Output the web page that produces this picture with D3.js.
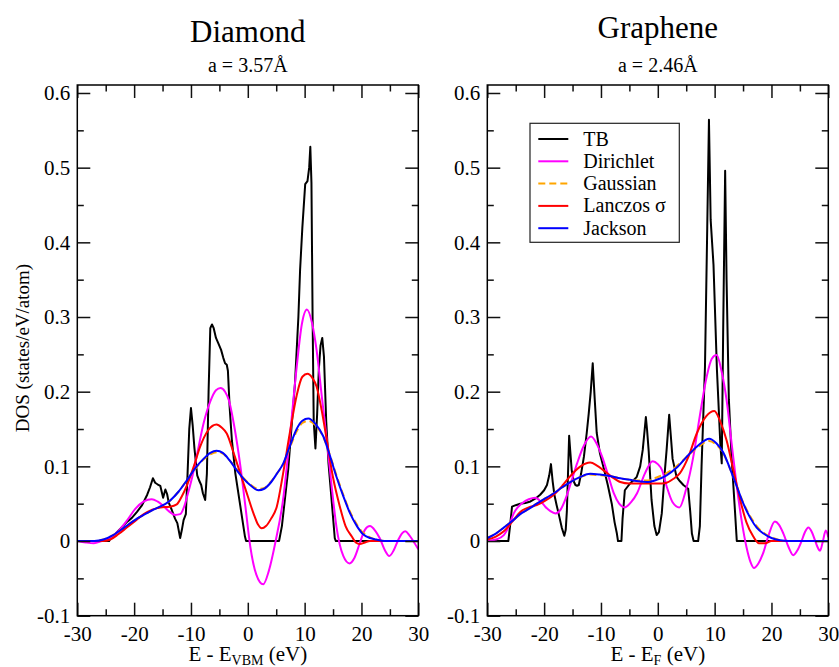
<!DOCTYPE html>
<html>
<head>
<meta charset="utf-8">
<script src="https://cdn.jsdelivr.net/npm/d3@7"></script>
<style>
  body { margin: 0; background: #fff; }
</style>
</head>
<body>
<div id="dos"></div>
<script>
// Data (E in eV, DOS in states/eV/atom) ---------------------------------------
const diamondTB = [[-30,0],[-24.4,0],[-24.2,0.003],[-23.5,0.008],[-22.5,0.016],[-21.2,0.026],[-20.4,0.031],[-19.5,0.039],[-18.6,0.048],[-17.7,0.062],[-17.2,0.072],[-16.7,0.084],[-16.3,0.078],[-15.9,0.076],[-15.4,0.074],[-14.9,0.058],[-14.5,0.069],[-14.2,0.063],[-13.9,0.051],[-13.5,0.044],[-13.2,0.038],[-12.8,0.030],[-12.4,0.024],[-12.1,0.012],[-11.9,0.004],[-11.6,0.015],[-11.3,0.028],[-10.9,0.036],[-10.6,0.09],[-10.3,0.15],[-10.0,0.178],[-9.7,0.155],[-9.4,0.125],[-8.9,0.088],[-8.5,0.080],[-8.2,0.075],[-7.9,0.064],[-7.5,0.055],[-7.2,0.09],[-6.9,0.2],[-6.6,0.285],[-6.3,0.290],[-6.0,0.285],[-5.6,0.272],[-5.2,0.265],[-4.7,0.256],[-4.3,0.245],[-4.0,0.238],[-3.7,0.236],[-3.5,0.228],[-3.2,0.18],[-2.8,0.135],[-2.2,0.091],[-1.3,0.046],[-0.5,0.006],[-0.3,0],[5.5,0],[6.0,0.02],[7.1,0.095],[8.3,0.211],[8.9,0.300],[9.2,0.363],[9.6,0.42],[10.1,0.478],[10.5,0.482],[10.8,0.50],[11.0,0.528],[11.2,0.48],[11.4,0.30],[11.6,0.16],[11.9,0.124],[12.2,0.17],[12.5,0.23],[12.8,0.262],[13.1,0.272],[13.4,0.247],[13.8,0.16],[14.2,0.104],[14.8,0.05],[15.3,0.004],[15.5,0],[30,0]];
const diamondDirichlet = [[-30,0],[-28.5,-0.002],[-27.1,-0.003],[-25.7,0],[-24.2,0.004],[-22.8,0.013],[-21.3,0.027],[-19.8,0.043],[-18.3,0.053],[-16.9,0.056],[-15.9,0.053],[-15.0,0.048],[-13.9,0.040],[-12.8,0.035],[-11.9,0.036],[-11.2,0.046],[-10.7,0.059],[-9.8,0.085],[-8.9,0.117],[-7.8,0.157],[-6.6,0.187],[-5.6,0.202],[-4.8,0.205],[-4.0,0.200],[-3.35,0.189],[-2.3,0.150],[-1.3,0.100],[-0.4,0.045],[0.45,-0.008],[1.5,-0.045],[2.7,-0.058],[3.7,-0.040],[4.9,0.0],[6.2,0.055],[7.4,0.14],[8.6,0.233],[9.5,0.290],[10.4,0.310],[11.3,0.292],[12.1,0.256],[13.0,0.195],[13.9,0.135],[14.8,0.07],[15.6,0.019],[16.8,-0.020],[17.9,-0.030],[18.8,-0.022],[19.7,-0.003],[20.6,0.015],[21.5,0.020],[22.4,0.014],[23.2,0.004],[24.1,-0.012],[24.9,-0.020],[25.7,-0.012],[26.5,0.002],[27.1,0.010],[27.7,0.013],[28.4,0.008],[29.1,0.0],[30,-0.011]];
const diamondGaussian = [[-30,0],[-27,0.0],[-25.4,0.002],[-23.7,0.008],[-21.6,0.019],[-19.5,0.030],[-16.6,0.042],[-13.7,0.054],[-12.2,0.066],[-10.75,0.081],[-9.3,0.096],[-7.8,0.109],[-6.6,0.116],[-5.5,0.119],[-4.4,0.117],[-3.2,0.108],[-1.95,0.096],[-0.8,0.085],[0.4,0.076],[1.85,0.070],[2.9,0.071],[3.9,0.078],[5.1,0.090],[6.25,0.103],[7.4,0.125],[8.6,0.147],[9.6,0.158],[10.65,0.161],[11.9,0.155],[13.3,0.139],[14.5,0.114],[15.6,0.088],[16.8,0.062],[18.0,0.039],[19.2,0.022],[20.3,0.011],[21.5,0.005],[22.6,0.002],[24,0],[30,0]];
const diamondLanczos = [[-30,0],[-27,0.0],[-25.5,0.0],[-24.2,0.002],[-22.8,0.009],[-21.3,0.018],[-19.8,0.027],[-18.3,0.036],[-16.8,0.042],[-15.4,0.045],[-13.7,0.046],[-12.5,0.049],[-11.6,0.060],[-10.7,0.075],[-9.5,0.100],[-8.4,0.126],[-7.0,0.148],[-5.5,0.156],[-4.6,0.152],[-3.7,0.144],[-2.5,0.118],[-1.3,0.090],[0.0,0.060],[1.0,0.037],[1.8,0.022],[2.45,0.017],[3.2,0.020],[4.1,0.030],[5.1,0.046],[6.2,0.090],[7.4,0.145],[8.6,0.195],[9.6,0.220],[10.5,0.224],[11.3,0.219],[12.1,0.207],[13.0,0.175],[13.9,0.135],[15.0,0.085],[16.2,0.046],[17.2,0.020],[18.3,0.006],[19.0,-0.002],[19.7,-0.004],[20.6,-0.002],[21.5,0.0],[30,0]];
const diamondJackson = [[-30,0],[-27,0.0],[-25.4,0.002],[-23.7,0.008],[-21.6,0.019],[-19.5,0.030],[-16.6,0.042],[-13.7,0.054],[-12.2,0.066],[-10.75,0.081],[-9.3,0.097],[-7.8,0.110],[-6.6,0.118],[-5.5,0.121],[-4.4,0.118],[-3.2,0.108],[-1.95,0.095],[-0.8,0.084],[0.4,0.075],[1.85,0.068],[2.9,0.070],[3.9,0.077],[5.1,0.090],[6.25,0.104],[7.4,0.127],[8.6,0.150],[9.6,0.161],[10.65,0.164],[11.9,0.157],[13.3,0.140],[14.5,0.113],[15.6,0.086],[16.8,0.060],[18.0,0.037],[19.2,0.020],[20.3,0.009],[21.5,0.004],[22.6,0.002],[24,0],[30,0]];

const grapheneTB = [[-30,0],[-26.3,0],[-26.0,0.02],[-25.65,0.046],[-25.0,0.048],[-24.2,0.050],[-23.3,0.051],[-22.4,0.053],[-21.5,0.057],[-20.7,0.062],[-20.0,0.068],[-19.5,0.075],[-19.1,0.088],[-18.8,0.103],[-18.5,0.08],[-18.2,0.062],[-17.8,0.048],[-17.4,0.035],[-16.9,0.018],[-16.45,0.007],[-16.2,0.015],[-16.0,0.04],[-15.8,0.09],[-15.6,0.141],[-15.4,0.12],[-15.15,0.095],[-14.8,0.08],[-14.5,0.075],[-14.2,0.074],[-13.9,0.075],[-13.5,0.09],[-13.0,0.113],[-12.5,0.145],[-12.15,0.171],[-11.8,0.20],[-11.45,0.238],[-11.1,0.19],[-10.75,0.145],[-10.2,0.118],[-9.6,0.100],[-8.8,0.075],[-8.1,0.050],[-7.6,0.025],[-7.2,0.010],[-7.0,0.0],[-6.4,0.0],[-6.2,0.03],[-5.8,0.068],[-5.3,0.073],[-4.9,0.077],[-4.3,0.081],[-3.7,0.086],[-3.1,0.100],[-2.65,0.122],[-2.3,0.150],[-2.1,0.166],[-1.9,0.15],[-1.6,0.12],[-1.1,0.055],[-0.6,0.02],[-0.2,0.008],[0.2,0.012],[0.7,0.037],[1.2,0.09],[1.55,0.122],[2.0,0.169],[2.3,0.14],[2.6,0.11],[3.3,0.086],[3.9,0.080],[4.5,0.075],[5.35,0.070],[5.7,0.04],[6.0,0.010],[6.3,0.0],[7.1,0.0],[7.4,0.02],[7.7,0.100],[8.3,0.233],[8.7,0.42],[9.0,0.564],[9.3,0.43],[9.8,0.37],[10.4,0.23],[10.65,0.189],[11.0,0.13],[11.25,0.104],[11.5,0.28],[11.85,0.496],[12.1,0.35],[12.5,0.19],[13.0,0.11],[13.5,0.05],[13.9,0.0],[30,0]];
const grapheneDirichlet = [[-30,0],[-28.5,0.002],[-27.1,0.008],[-26.2,0.02],[-25.35,0.037],[-24.0,0.050],[-22.7,0.056],[-21.55,0.058],[-20.6,0.053],[-19.8,0.046],[-18.9,0.040],[-18.0,0.037],[-17.1,0.042],[-16.3,0.055],[-15.2,0.080],[-14.2,0.104],[-13.0,0.128],[-11.75,0.140],[-10.8,0.131],[-9.8,0.113],[-8.7,0.087],[-7.75,0.064],[-6.8,0.050],[-5.8,0.045],[-4.7,0.052],[-3.65,0.064],[-2.3,0.090],[-0.9,0.107],[0.0,0.103],[0.74,0.095],[1.57,0.073],[2.6,0.052],[3.8,0.045],[5.0,0.070],[6.25,0.113],[7.4,0.168],[8.6,0.220],[9.5,0.244],[10.35,0.249],[11.2,0.228],[12.1,0.189],[13.0,0.130],[13.9,0.073],[14.8,0.025],[15.6,-0.008],[16.3,-0.028],[16.9,-0.036],[17.7,-0.030],[18.5,-0.017],[19.5,0.008],[20.6,0.026],[21.3,0.022],[22.1,0.010],[23.0,-0.008],[23.85,-0.019],[24.6,-0.012],[25.3,0.0],[25.9,0.012],[26.5,0.018],[27.1,0.012],[27.7,0.0],[28.1,-0.008],[28.55,-0.013],[29.0,-0.002],[29.55,0.014],[30,0.005]];
const grapheneGaussian = [[-30,0.004],[-28.5,0.010],[-27.1,0.018],[-25.6,0.027],[-24.2,0.036],[-22.7,0.043],[-21.3,0.050],[-19.8,0.057],[-18.3,0.064],[-16.8,0.072],[-15.4,0.079],[-13.6,0.086],[-11.9,0.089],[-10.2,0.088],[-8.4,0.087],[-6.6,0.084],[-4.9,0.082],[-3.4,0.081],[-1.9,0.081],[-0.2,0.085],[1.55,0.091],[3.3,0.100],[5.1,0.113],[7.1,0.126],[9.05,0.134],[10.3,0.129],[11.5,0.118],[12.7,0.097],[13.9,0.074],[15.0,0.052],[16.2,0.034],[17.4,0.020],[18.6,0.011],[20.0,0.005],[21.5,0.001],[23,0],[30,0]];
const grapheneLanczos = [[-30,0.002],[-28.5,0.006],[-27.1,0.013],[-25.6,0.026],[-24.2,0.039],[-22.7,0.045],[-21.3,0.048],[-19.8,0.054],[-18.3,0.062],[-16.8,0.074],[-15.4,0.087],[-13.6,0.100],[-11.9,0.105],[-10.7,0.101],[-9.6,0.095],[-8.1,0.086],[-6.6,0.079],[-5.0,0.077],[-2.6,0.077],[0.7,0.077],[1.55,0.078],[2.7,0.083],[3.9,0.091],[5.4,0.113],[6.85,0.144],[8.5,0.167],[9.95,0.174],[11.0,0.160],[12.1,0.135],[13.3,0.095],[14.5,0.055],[15.6,0.025],[16.8,0.006],[17.8,-0.003],[18.9,-0.003],[20.0,0.0],[30,0]];
const grapheneJackson = [[-30,0.004],[-28.5,0.010],[-27.1,0.018],[-25.6,0.027],[-24.2,0.036],[-22.7,0.043],[-21.3,0.050],[-19.8,0.057],[-18.3,0.064],[-16.8,0.072],[-15.4,0.079],[-13.6,0.086],[-11.9,0.090],[-10.2,0.089],[-8.4,0.087],[-6.6,0.084],[-4.9,0.082],[-3.4,0.080],[-1.9,0.079],[-0.2,0.082],[1.55,0.088],[3.3,0.098],[5.1,0.113],[7.1,0.128],[9.05,0.137],[10.3,0.131],[11.5,0.119],[12.7,0.097],[13.9,0.073],[15.0,0.051],[16.2,0.032],[17.4,0.018],[18.6,0.010],[20.0,0.004],[21.5,0.001],[23,0],[30,0]];

const seriesNames = ["TB", "Dirichlet", "Gaussian", "Lanczos σ", "Jackson"];
const seriesColors = ["#000000", "#ff00ff", "#ffa500", "#ff0000", "#0000ff"];
const xMajor = [-30, -20, -10, 0, 10, 20, 30];
const xMinor = [-25, -15, -5, 5, 15, 25];
const yMajor = [-0.1, 0, 0.1, 0.2, 0.3, 0.4, 0.5, 0.6];
const yMinor = [-0.05, 0.05, 0.15, 0.25, 0.35, 0.45, 0.55];

// Layout ----------------------------------------------------------------------
const width = 839;
const height = 667;
const plotTop = 85, plotBottom = 615.7;
const serif = "'Liberation Serif'";
const panels = [
  { id: "diamond", title: "Diamond", titleY: 42, lattice: "a = 3.57Å", sub: "VBM",
    left: 77.3, right: 418.3, legend: false,
    series: [diamondTB, diamondDirichlet, diamondGaussian, diamondLanczos, diamondJackson] },
  { id: "graphene", title: "Graphene", titleY: 38, lattice: "a = 2.46Å", sub: "F",
    left: 487.3, right: 828.3, legend: true,
    series: [grapheneTB, grapheneDirichlet, grapheneGaussian, grapheneLanczos, grapheneJackson] }
];

const svg = d3.select("#dos")
  .append("svg")
  .attr("width", width)
  .attr("height", height);

const y = d3.scaleLinear().domain([-0.1, 0.6107]).range([plotBottom, plotTop]);
const fmt = d => String(d);

panels.forEach(p => {
  const x = d3.scaleLinear().domain([-30, 30]).range([p.left, p.right]);
  const g = svg.append("g");
  const cx = (p.left + p.right) / 2;

  // Curves --------------------------------------------------------------------
  g.append("clipPath")
    .attr("id", "clip-" + p.id)
    .append("rect")
    .attr("x", p.left).attr("y", plotTop)
    .attr("width", p.right - p.left).attr("height", plotBottom - plotTop);

  const line = d3.line()
    .x(d => x(d[0]))
    .y(d => y(d[1]));

  const curves = g.append("g").attr("clip-path", "url(#clip-" + p.id + ")");
  p.series.forEach((s, i) => {
    curves.append("path")
      .datum(s)
      .attr("fill", "none")
      .attr("stroke", seriesColors[i])
      .attr("stroke-width", 2)
      .attr("stroke-linejoin", "round")
      .attr("stroke-dasharray", i === 2 ? "7,4" : null)
      .attr("d", line.curve(i === 0 ? d3.curveLinear : d3.curveMonotoneX));
  });

  // Axes ----------------------------------------------------------------------
  const axes = [
    [d3.axisBottom(x), "translate(0," + plotBottom + ")", true],
    [d3.axisTop(x), "translate(0," + plotTop + ")", false],
  ];
  axes.forEach(([axis, tr, labels]) => {
    g.append("g").attr("transform", tr)
      .call(axis.tickValues(xMajor).tickSize(-13).tickPadding(10)
        .tickFormat(labels ? fmt : ""))
      .call(a => a.select(".domain").remove());
    g.append("g").attr("transform", tr)
      .call(axis.tickValues(xMinor).tickSize(-6.5).tickFormat(""))
      .call(a => a.select(".domain").remove());
  });
  const yaxes = [
    [d3.axisLeft(y), "translate(" + p.left + ",0)", true],
    [d3.axisRight(y), "translate(" + p.right + ",0)", false],
  ];
  yaxes.forEach(([axis, tr, labels]) => {
    g.append("g").attr("transform", tr)
      .call(axis.tickValues(yMajor).tickSize(-13).tickPadding(7)
        .tickFormat(labels ? fmt : ""))
      .call(a => a.select(".domain").remove());
    g.append("g").attr("transform", tr)
      .call(axis.tickValues(yMinor).tickSize(-6.5).tickFormat(""))
      .call(a => a.select(".domain").remove());
  });
  g.selectAll(".tick line").attr("stroke", "#111").attr("stroke-width", 1.5);
  g.selectAll(".tick text")
    .attr("fill", "#000")
    .style("font-size", "21px");

  g.append("rect")
    .attr("x", p.left).attr("y", plotTop)
    .attr("width", p.right - p.left).attr("height", plotBottom - plotTop)
    .attr("fill", "none")
    .attr("stroke", "#000")
    .attr("stroke-width", 1.5);

  // Titles and labels ---------------------------------------------------------
  g.append("text")
    .attr("x", cx).attr("y", p.titleY)
    .attr("text-anchor", "middle")
    .style("font-size", "31px")
    .text(p.title);
  g.append("text")
    .attr("x", cx).attr("y", 72)
    .attr("text-anchor", "middle")
    .style("font-size", "20px")
    .text(p.lattice);

  const xl = g.append("text")
    .attr("x", cx).attr("y", 661)
    .attr("text-anchor", "middle")
    .style("font-size", "21px");
  xl.append("tspan").text("E - E");
  xl.append("tspan").attr("dy", 4).style("font-size", "14px").text(p.sub);
  xl.append("tspan").attr("dy", -4).text(" (eV)");

  // Legend --------------------------------------------------------------------
  if (p.legend) {
    const lg = g.append("g");
    lg.append("rect")
      .attr("x", 530).attr("y", 123.3)
      .attr("width", 149.3).attr("height", 119)
      .attr("fill", "#fff")
      .attr("stroke", "#222")
      .attr("stroke-width", 1.2);
    seriesNames.forEach((name, i) => {
      const ly = 139 + i * 22.3;
      lg.append("line")
        .attr("x1", 538.3).attr("x2", 568.3)
        .attr("y1", ly).attr("y2", ly)
        .attr("stroke", seriesColors[i])
        .attr("stroke-width", 2)
        .attr("stroke-dasharray", i === 2 ? "7,4" : null);
      lg.append("text")
        .attr("x", 583.3).attr("y", ly + 6.5)
        .style("font-size", "20px")
        .text(name);
    });
  }
});

svg.append("text")
  .attr("transform", "translate(29,348) rotate(-90)")
  .attr("text-anchor", "middle")
  .style("font-size", "19px")
  .text("DOS (states/eV/atom)");

// Every text in the serif face
svg.selectAll("text").style("font-family", serif);
</script>
</body>
</html>
